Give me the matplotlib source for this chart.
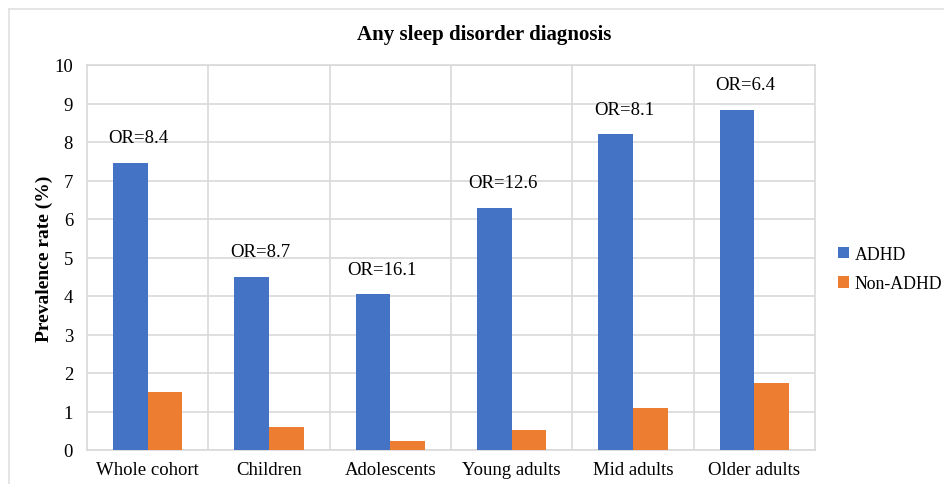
import matplotlib
matplotlib.use("Agg")
import matplotlib.pyplot as plt
import numpy as np
from matplotlib.lines import Line2D

categories = ["Whole cohort", "Children", "Adolescents", "Young adults", "Mid adults", "Older adults"]
adhd = [7.46, 4.50, 4.04, 6.29, 8.20, 8.84]
non_adhd = [1.50, 0.61, 0.24, 0.51, 1.10, 1.73]
or_labels = ["OR=8.4", "OR=8.7", "OR=16.1", "OR=12.6", "OR=8.1", "OR=6.4"]
yticks = [0, 1, 2, 3, 4, 5, 6, 7, 8, 9, 10]

plt.rcParams['font.family'] = ['Liberation Serif', 'DejaVu Serif']

W, H = 944, 485
fig = plt.figure(figsize=(W/100, H/100), dpi=100)
ax = fig.add_axes([87/W, 1 - 451/H, (815-87)/W, (451-66)/H])

x = np.arange(len(categories))
bw = 0.286
c_blue = "#4472C4"
c_orange = "#ED7D31"
ax.bar(x - bw/2, adhd, bw, color=c_blue, label="ADHD", zorder=3)
ax.bar(x + bw/2, non_adhd, bw, color=c_orange, label="Non-ADHD", zorder=3)

for xi, v, lab in zip(x, adhd, or_labels):
    ax.text(xi - bw/2 + 0.07, v + 0.65, lab, ha="center", va="center", fontsize=13.5, color="black", zorder=4)

ax.set_xlim(-0.5, len(categories) - 0.5)
ax.set_ylim(0, 10)
ax.set_yticks(yticks)
ax.set_xticks(x)
ax.set_xticklabels(categories, fontsize=13.5)
ax.tick_params(axis='y', labelsize=13.5, length=0, pad=10)
ax.tick_params(axis='x', length=0, pad=8)
ax.yaxis.grid(True, color="#D9D9D9", linewidth=1.2, zorder=0)
for b in np.arange(0.5, len(categories) - 0.5, 1):
    ax.axvline(b, color="#D9D9D9", linewidth=1.2, zorder=0)
for s in ax.spines.values():
    s.set_color("#D9D9D9")
    s.set_linewidth(1.2)

ax.set_ylabel("Prevalence rate (%)", fontsize=14, fontweight="bold", labelpad=1)
fig.text(484/W, 1 - 35/H, "Any sleep disorder diagnosis", ha="center", va="center",
         fontsize=15, fontweight="bold")

leg = fig.legend(loc="center left", bbox_to_anchor=(838/W, 1 - 270/H), frameon=False,
                 fontsize=12.8, handlelength=0.6, handleheight=0.6, handletextpad=0.35,
                 labelspacing=0.7, borderpad=0, borderaxespad=0)

# outer chart border
fig.add_artist(Line2D([9/W, 1], [1 - 10/H, 1 - 10/H], transform=fig.transFigure, color="#E0E0E0", linewidth=1.2))
fig.add_artist(Line2D([9/W, 9/W], [0, 1 - 10/H], transform=fig.transFigure, color="#E0E0E0", linewidth=1.2))

fig.savefig("out.png", dpi=100)
